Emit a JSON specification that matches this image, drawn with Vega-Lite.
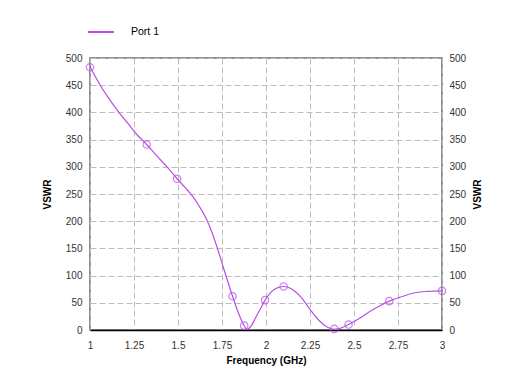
{
  "$schema": "https://vega.github.io/schema/vega-lite/v6.json",
  "width": 352,
  "height": 272,
  "autosize": {"type": "none"},
  "padding": {"left": 90, "top": 58, "right": 68, "bottom": 59},
  "background": "white",
  "datasets": {
    "curve": [
      {"freq": 1.0, "vswr": 484},
      {"freq": 1.03, "vswr": 466},
      {"freq": 1.06, "vswr": 449},
      {"freq": 1.1, "vswr": 429},
      {"freq": 1.16, "vswr": 402},
      {"freq": 1.22, "vswr": 378},
      {"freq": 1.27, "vswr": 358},
      {"freq": 1.322, "vswr": 341},
      {"freq": 1.38, "vswr": 320},
      {"freq": 1.44, "vswr": 299},
      {"freq": 1.495, "vswr": 278},
      {"freq": 1.54, "vswr": 262},
      {"freq": 1.58, "vswr": 247},
      {"freq": 1.62, "vswr": 228},
      {"freq": 1.66, "vswr": 205},
      {"freq": 1.69, "vswr": 182},
      {"freq": 1.72, "vswr": 154},
      {"freq": 1.75, "vswr": 123},
      {"freq": 1.78, "vswr": 92},
      {"freq": 1.81, "vswr": 62},
      {"freq": 1.84, "vswr": 34},
      {"freq": 1.876, "vswr": 8},
      {"freq": 1.89, "vswr": 1},
      {"freq": 1.91, "vswr": 5},
      {"freq": 1.94, "vswr": 22},
      {"freq": 1.97, "vswr": 40},
      {"freq": 1.995, "vswr": 55},
      {"freq": 2.03, "vswr": 70},
      {"freq": 2.06, "vswr": 77},
      {"freq": 2.1, "vswr": 80},
      {"freq": 2.13, "vswr": 78},
      {"freq": 2.16, "vswr": 72},
      {"freq": 2.2, "vswr": 60},
      {"freq": 2.25, "vswr": 38},
      {"freq": 2.3, "vswr": 18},
      {"freq": 2.35, "vswr": 5},
      {"freq": 2.388, "vswr": 1},
      {"freq": 2.42, "vswr": 3},
      {"freq": 2.469, "vswr": 10},
      {"freq": 2.53, "vswr": 21},
      {"freq": 2.59, "vswr": 34},
      {"freq": 2.65, "vswr": 45},
      {"freq": 2.7, "vswr": 53},
      {"freq": 2.76, "vswr": 60},
      {"freq": 2.84, "vswr": 68},
      {"freq": 2.92, "vswr": 71},
      {"freq": 3.0, "vswr": 72}
    ],
    "markers": [
      {"freq": 1.0, "vswr": 483},
      {"freq": 1.322, "vswr": 341},
      {"freq": 1.495, "vswr": 278},
      {"freq": 1.81, "vswr": 62},
      {"freq": 1.876, "vswr": 8},
      {"freq": 1.995, "vswr": 55},
      {"freq": 2.1, "vswr": 80},
      {"freq": 2.388, "vswr": 2},
      {"freq": 2.469, "vswr": 10},
      {"freq": 2.7, "vswr": 53},
      {"freq": 3.0, "vswr": 72}
    ]
  },
  "layer": [
    {
      "data": {"name": "curve"},
      "mark": {"type": "line", "interpolate": "monotone", "strokeWidth": 1.2},
      "encoding": {
        "x": {
          "field": "freq", "type": "quantitative",
          "scale": {"domain": [1, 3], "nice": false},
          "axis": {
            "title": "Frequency (GHz)",
            "values": [1, 1.25, 1.5, 1.75, 2, 2.25, 2.5, 2.75, 3],
            "labelExpr": "'' + datum.value",
            "domain": true, "domainColor": "#000000", "domainWidth": 1.5,
            "labelPadding": 10, "titlePadding": 5
          }
        },
        "y": {
          "field": "vswr", "type": "quantitative",
          "scale": {"domain": [0, 500], "nice": false},
          "axis": {
            "title": "VSWR", "orient": "left",
            "values": [0, 50, 100, 150, 200, 250, 300, 350, 400, 450, 500],
            "labelPadding": 8, "titlePadding": 13
          }
        },
        "color": {
          "datum": "Port 1", "type": "nominal",
          "scale": {"range": ["#b84fe6"]},
          "legend": {
            "title": null, "orient": "top", "symbolType": "stroke",
            "symbolSize": 676, "symbolStrokeWidth": 2, "symbolOffset": -3,
            "labelFontSize": 10.5, "labelColor": "#000000", "labelOffset": 16,
            "offset": 20, "padding": 0
          }
        }
      }
    },
    {
      "data": {"name": "markers"},
      "mark": {"type": "point", "shape": "circle", "filled": false, "color": "#b84fe6", "size": 55, "strokeWidth": 1.2},
      "encoding": {
        "x": {"field": "freq", "type": "quantitative"},
        "y": {
          "field": "vswr", "type": "quantitative",
          "axis": {
            "title": "VSWR", "orient": "right", "grid": false,
            "values": [0, 50, 100, 150, 200, 250, 300, 350, 400, 450, 500],
            "labelPadding": 7, "titlePadding": 7,
            "titleAngle": 270, "titleBaseline": "top"
          }
        }
      }
    }
  ],
  "resolve": {"axis": {"y": "independent"}},
  "config": {
    "font": "Liberation Sans",
    "view": {"stroke": "#707070", "strokeWidth": 1.5},
    "axis": {
      "grid": true, "gridDash": [6, 3], "gridColor": "#bdbdbd", "gridWidth": 1,
      "ticks": false, "domain": false, "labelFlush": false,
      "labelFontSize": 10, "labelColor": "#333333",
      "titleFontSize": 10, "titleFontWeight": "bold", "titleColor": "#000000"
    }
  }
}
